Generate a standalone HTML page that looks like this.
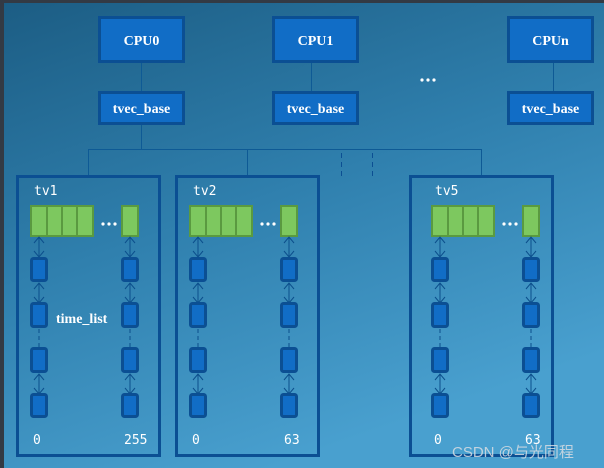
<!DOCTYPE html>
<html><head><meta charset="utf-8"><style>
html,body{margin:0;padding:0;width:604px;height:468px;overflow:hidden;background:#333a44}
svg{display:block}
.t{font-family:"Liberation Serif",serif;font-weight:bold;fill:#fff;font-size:14px}
.m{font-family:"DejaVu Sans Mono","Liberation Mono",monospace;fill:#fff;font-size:13px}
</style></head><body>
<svg width="604" height="468" viewBox="0 0 604 468" xmlns="http://www.w3.org/2000/svg">
<defs>
<linearGradient id="bg" x1="0" y1="0" x2="0.45" y2="1">
<stop offset="0" stop-color="#1c5d84"/>
<stop offset="0.5" stop-color="#2f7fad"/>
<stop offset="1" stop-color="#49a0cf"/>
</linearGradient>
<marker id="ar" markerWidth="10" markerHeight="10" refX="5" refY="8" orient="auto" markerUnits="userSpaceOnUse">
<path d="M1,1 L5,8 L9,1" fill="none" stroke="#0c4f8c" stroke-width="1"/>
</marker>
<g id="col">
<line x1="9" y1="1" x2="9" y2="20" stroke="#0c4f8c" stroke-width="1"/>
<path d="M4,7 L9,1 L14,7 M4,15 L9,21 L14,15" fill="none" stroke="#0c4f8c" stroke-width="1"/>
<rect x="1.5" y="22.5" width="15" height="22" rx="2" fill="#116dc6" stroke="#0b4f93" stroke-width="3"/>
<line x1="9" y1="47" x2="9" y2="66" stroke="#0c4f8c" stroke-width="1"/>
<path d="M4,53 L9,47 L14,53 M4,61 L9,67 L14,61" fill="none" stroke="#0c4f8c" stroke-width="1"/>
<rect x="1.5" y="67.5" width="15" height="23" rx="2" fill="#116dc6" stroke="#0b4f93" stroke-width="3"/>
<line x1="9" y1="93" x2="9" y2="112" stroke="#0c4f8c" stroke-width="1" stroke-dasharray="4,3"/>
<rect x="1.5" y="112.5" width="15" height="23" rx="2" fill="#116dc6" stroke="#0b4f93" stroke-width="3"/>
<line x1="9" y1="138" x2="9" y2="157" stroke="#0c4f8c" stroke-width="1"/>
<path d="M4,144 L9,138 L14,144 M4,152 L9,158 L14,152" fill="none" stroke="#0c4f8c" stroke-width="1"/>
<rect x="1.5" y="158.5" width="15" height="22" rx="2" fill="#116dc6" stroke="#0b4f93" stroke-width="3"/>
</g>
<g id="inner">
<rect x="1" y="1" width="62" height="30" fill="#7dc85f" stroke="#5a9a40" stroke-width="2"/>
<line x1="17" y1="1" x2="17" y2="31" stroke="#5a9a40" stroke-width="2"/>
<line x1="32" y1="1" x2="32" y2="31" stroke="#5a9a40" stroke-width="2"/>
<line x1="47" y1="1" x2="47" y2="31" stroke="#5a9a40" stroke-width="2"/>
<rect x="92" y="1" width="16" height="30" fill="#7dc85f" stroke="#5a9a40" stroke-width="2"/>
<circle cx="73" cy="19" r="1.6" fill="#fff"/><circle cx="79" cy="19" r="1.6" fill="#fff"/><circle cx="85" cy="19" r="1.6" fill="#fff"/>
<use href="#col" x="0" y="31"/>
<use href="#col" x="91" y="31"/>
</g>
</defs>
<rect x="4" y="3" width="600" height="465" fill="url(#bg)"/>

<!-- CPUs -->
<g stroke="#0b4f93" stroke-width="3" fill="#116dc6">
<rect x="99.5" y="17.5" width="84" height="44"/>
<rect x="273.5" y="17.5" width="84" height="44"/>
<rect x="508.5" y="17.5" width="84" height="44"/>
<rect x="99.5" y="92.5" width="84" height="31"/>
<rect x="273.5" y="92.5" width="84" height="31"/>
<rect x="508.5" y="92.5" width="84" height="31"/>
</g>
<text class="t" x="141.5" y="45" text-anchor="middle">CPU0</text>
<text class="t" x="315.5" y="45" text-anchor="middle">CPU1</text>
<text class="t" x="550.5" y="45" text-anchor="middle">CPUn</text>
<text class="t" x="141.5" y="113" text-anchor="middle">tvec_base</text>
<text class="t" x="315.5" y="113" text-anchor="middle">tvec_base</text>
<text class="t" x="550.5" y="113" text-anchor="middle">tvec_base</text>
<circle cx="422" cy="80" r="1.6" fill="#fff"/><circle cx="428" cy="80" r="1.6" fill="#fff"/><circle cx="434" cy="80" r="1.6" fill="#fff"/>

<g stroke="#0e5a95" stroke-width="1" fill="none">
<line x1="141.5" y1="63" x2="141.5" y2="91"/>
<line x1="311.5" y1="63" x2="311.5" y2="91"/>
<line x1="553.5" y1="63" x2="553.5" y2="91"/>
<line x1="141.5" y1="125" x2="141.5" y2="149.5"/>
<line x1="88" y1="149.5" x2="482" y2="149.5"/>
<line x1="88.5" y1="149" x2="88.5" y2="176"/>
<line x1="247.5" y1="149" x2="247.5" y2="176"/>
<line x1="481.5" y1="149" x2="481.5" y2="176"/>
<line x1="341.5" y1="153" x2="341.5" y2="176" stroke="#0b4f93" stroke-dasharray="5,4"/>
<line x1="372.5" y1="153" x2="372.5" y2="176" stroke="#0b4f93" stroke-dasharray="5,4"/>
</g>

<!-- tv boxes -->
<g fill="none" stroke="#0b4f93" stroke-width="3">
<rect x="17.5" y="176.5" width="142" height="279"/>
<rect x="176.5" y="176.5" width="142" height="279"/>
<rect x="410.5" y="176.5" width="142" height="279"/>
</g>
<text class="m" x="34" y="195">tv1</text>
<text class="m" x="193" y="195">tv2</text>
<text class="m" x="435" y="195">tv5</text>
<use href="#inner" x="30" y="205"/>
<use href="#inner" x="189" y="205"/>
<use href="#inner" x="431" y="205"/>
<text class="t" x="56" y="323">time_list</text>
<text class="m" x="33" y="444">0</text>
<text class="m" x="124" y="444">255</text>
<text class="m" x="192" y="444">0</text>
<text class="m" x="284" y="444">63</text>
<text class="m" x="434" y="444">0</text>
<text class="m" x="525" y="444">63</text>
<text x="452" y="457" font-family="'Liberation Sans','Noto Sans CJK SC',sans-serif" font-size="15" fill="#d8dde2" opacity="0.85">CSDN @与光同程</text>
</svg>
</body></html>
